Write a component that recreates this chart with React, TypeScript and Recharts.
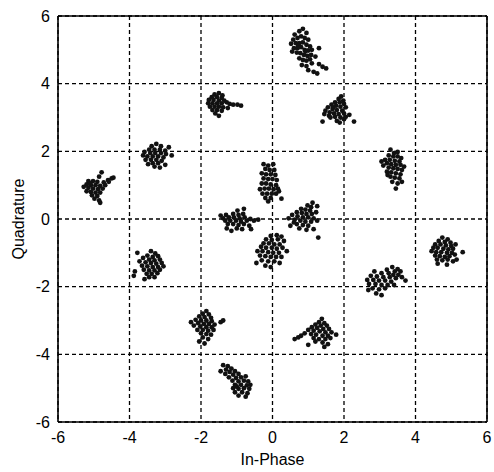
import { ScatterChart, Scatter, XAxis, YAxis, CartesianGrid, ReferenceLine } from 'recharts';

const axisTicks = [-6, -4, -2, 0, 2, 4, 6];

// one array per constellation cluster, [in-phase, quadrature]
const c1 = [
  [0.62, 5.45], [0.75, 5.55], [0.85, 5.62], [0.95, 5.5], [0.58, 5.3], [0.52, 5.18], [0.7, 5.35], [0.8, 5.4],
  [0.9, 5.35], [1.0, 5.3], [0.65, 5.2], [0.75, 5.2], [0.85, 5.22], [0.95, 5.15], [1.05, 5.1], [0.6, 5.05],
  [0.7, 5.05], [0.8, 5.08], [0.9, 5.0], [1.0, 4.98], [1.1, 5.0], [0.68, 4.92], [0.78, 4.9], [0.88, 4.85],
  [0.98, 4.82], [1.08, 4.85], [0.75, 4.75], [0.85, 4.7], [0.95, 4.68], [1.05, 4.72], [1.2, 4.8], [0.82, 4.55],
  [0.95, 4.52], [1.1, 4.6], [1.3, 4.58], [1.4, 4.5], [1.0, 4.4], [1.15, 4.35], [1.25, 4.3], [1.5, 4.45],
  [0.55, 4.95], [1.3, 5.05], [0.92, 4.95], [0.72, 5.12],
];
const c2 = [
  [1.92, 3.62], [1.85, 3.55], [1.98, 3.5], [1.75, 3.45], [1.88, 3.45], [2.0, 3.4], [1.65, 3.38], [1.78, 3.35],
  [1.9, 3.32], [2.05, 3.3], [1.55, 3.3], [1.68, 3.25], [1.8, 3.22], [1.95, 3.2], [1.48, 3.2], [1.6, 3.15],
  [1.72, 3.12], [1.85, 3.1], [2.0, 3.12], [1.45, 3.1], [1.58, 3.05], [1.75, 3.02], [1.9, 3.0], [2.05, 3.02],
  [2.15, 3.08], [1.4, 2.88], [1.8, 2.9], [1.88, 2.85], [2.0, 2.95], [2.28, 2.88], [1.62, 3.0], [1.7, 3.3],
];
const c3 = [
  [3.3, 2.05], [3.4, 1.95], [3.5, 1.98], [3.25, 1.88], [3.38, 1.85], [3.5, 1.85], [3.6, 1.8], [3.15, 1.75],
  [3.28, 1.75], [3.42, 1.72], [3.55, 1.7], [3.2, 1.65], [3.32, 1.62], [3.45, 1.6], [3.58, 1.6], [3.68, 1.55],
  [3.1, 1.58], [3.25, 1.52], [3.38, 1.5], [3.5, 1.48], [3.62, 1.45], [3.2, 1.4], [3.32, 1.38], [3.45, 1.35],
  [3.58, 1.32], [3.3, 1.25], [3.42, 1.22], [3.55, 1.2], [3.35, 1.1], [3.5, 1.05], [3.62, 1.1], [3.45, 0.9],
  [3.22, 1.3], [3.05, 1.7],
];
const c4 = [
  [4.75, -0.55], [4.9, -0.6], [4.65, -0.65], [4.82, -0.68], [4.98, -0.7], [4.55, -0.75], [4.7, -0.75],
  [4.85, -0.78], [5.0, -0.8], [5.12, -0.75], [4.5, -0.85], [4.62, -0.85], [4.78, -0.88], [4.92, -0.9],
  [5.05, -0.88], [4.45, -0.95], [4.58, -0.98], [4.72, -0.98], [4.88, -1.0], [5.02, -1.0], [5.32, -0.98],
  [4.55, -1.08], [4.68, -1.1], [4.82, -1.12], [4.95, -1.1], [5.1, -1.05], [4.6, -1.2], [4.75, -1.22],
  [4.9, -1.2], [5.05, -1.25], [4.62, -1.32], [4.88, -1.35], [5.15, -1.2],
];
const c5 = [
  [3.35, -1.42], [3.5, -1.48], [3.2, -1.5], [3.42, -1.55], [3.58, -1.55], [2.85, -1.55], [3.05, -1.6],
  [3.25, -1.6], [3.38, -1.65], [3.52, -1.65], [2.75, -1.68], [2.92, -1.7], [3.1, -1.72], [3.28, -1.72],
  [3.45, -1.75], [3.62, -1.72], [2.65, -1.8], [2.82, -1.8], [2.98, -1.82], [3.15, -1.82], [3.32, -1.85],
  [3.72, -1.82], [2.7, -1.92], [2.88, -1.92], [3.05, -1.95], [3.22, -1.95], [3.4, -1.95], [2.8, -2.05],
  [2.98, -2.08], [3.15, -2.05], [2.9, -2.2], [3.05, -2.25], [2.68, -2.1],
];
const c6 = [
  [1.38, -2.95], [1.3, -3.05], [1.45, -3.08], [1.2, -3.12], [1.35, -3.15], [1.52, -3.15], [1.1, -3.2],
  [1.25, -3.22], [1.42, -3.25], [1.58, -3.25], [1.0, -3.28], [1.15, -3.3], [1.32, -3.32], [1.48, -3.35],
  [1.65, -3.35], [0.9, -3.38], [1.08, -3.4], [1.22, -3.42], [1.4, -3.45], [1.55, -3.45], [1.78, -3.42],
  [0.8, -3.45], [0.72, -3.5], [0.62, -3.55], [1.15, -3.52], [1.3, -3.55], [1.48, -3.55], [1.62, -3.52],
  [1.2, -3.62], [1.4, -3.65], [1.55, -3.7], [1.0, -3.72], [1.45, -3.78],
];
const c7 = [
  [-1.38, -4.32], [-1.25, -4.35], [-1.3, -4.45], [-1.15, -4.42], [-1.45, -4.5], [-1.2, -4.52], [-1.05, -4.5],
  [-1.32, -4.58], [-1.1, -4.6], [-0.95, -4.58], [-1.22, -4.68], [-1.02, -4.7], [-0.88, -4.68], [-0.75, -4.65],
  [-1.12, -4.78], [-0.95, -4.8], [-0.8, -4.78], [-0.68, -4.8], [-1.05, -4.9], [-0.88, -4.9], [-0.72, -4.92],
  [-1.1, -5.0], [-0.95, -5.02], [-0.8, -5.0], [-0.65, -5.02], [-1.05, -5.12], [-0.85, -5.12], [-0.7, -5.15],
  [-0.95, -5.22], [-0.75, -5.25], [-1.0, -4.95], [-0.62, -4.9],
];
const c8 = [
  [-1.85, -2.72], [-1.95, -2.8], [-1.78, -2.82], [-2.05, -2.88], [-1.9, -2.9], [-1.72, -2.92], [-2.15, -2.98],
  [-2.0, -3.0], [-1.85, -3.0], [-1.7, -3.02], [-2.28, -3.05], [-2.08, -3.08], [-1.92, -3.1], [-1.78, -3.1],
  [-1.62, -3.12], [-2.2, -3.15], [-2.02, -3.18], [-1.85, -3.2], [-1.7, -3.2], [-1.45, -3.05], [-1.38, -3.0],
  [-2.1, -3.28], [-1.95, -3.28], [-1.8, -3.3], [-1.65, -3.28], [-2.0, -3.38], [-1.85, -3.4], [-1.72, -3.42],
  [-1.95, -3.5], [-1.8, -3.55], [-2.05, -3.62], [-1.9, -3.68],
];
const c9 = [
  [-3.78, -1.0], [-3.4, -0.95], [-3.28, -1.02], [-3.5, -1.08], [-3.35, -1.12], [-3.2, -1.1], [-3.62, -1.15],
  [-3.45, -1.2], [-3.3, -1.22], [-3.15, -1.2], [-3.72, -1.25], [-3.55, -1.28], [-3.4, -1.3], [-3.25, -1.32],
  [-3.1, -1.3], [-3.65, -1.38], [-3.5, -1.4], [-3.35, -1.42], [-3.2, -1.42], [-3.05, -1.4], [-3.6, -1.5],
  [-3.45, -1.52], [-3.3, -1.52], [-3.15, -1.5], [-3.85, -1.55], [-3.52, -1.62], [-3.38, -1.62], [-3.22, -1.6],
  [-3.45, -1.72], [-3.3, -1.72], [-3.88, -1.68], [-3.58, -1.78],
];
const c10 = [
  [-4.78, 1.38], [-4.85, 1.25], [-4.5, 1.2], [-4.6, 1.15], [-5.15, 1.12], [-5.02, 1.12], [-4.9, 1.1],
  [-4.72, 1.08], [-5.2, 1.02], [-5.08, 1.0], [-4.95, 1.0], [-4.82, 0.98], [-4.68, 1.0], [-5.28, 0.95],
  [-5.15, 0.92], [-5.02, 0.9], [-4.88, 0.88], [-4.75, 0.9], [-5.2, 0.82], [-5.08, 0.8], [-4.95, 0.78],
  [-4.82, 0.78], [-5.05, 0.7], [-4.9, 0.68], [-4.98, 0.6], [-4.85, 0.55], [-4.82, 0.48], [-4.58, 1.1],
  [-4.45, 1.22], [-5.1, 1.05],
];
const c11 = [
  [-3.25, 2.22], [-3.38, 2.15], [-3.12, 2.15], [-2.9, 2.12], [-3.45, 2.05], [-3.3, 2.05], [-3.15, 2.05],
  [-3.0, 2.02], [-3.58, 1.98], [-3.42, 1.95], [-3.28, 1.95], [-3.12, 1.95], [-2.98, 1.92], [-3.62, 1.88],
  [-3.5, 1.85], [-3.35, 1.85], [-3.2, 1.85], [-3.05, 1.82], [-2.82, 1.88], [-3.55, 1.75], [-3.4, 1.75],
  [-3.25, 1.75], [-3.1, 1.72], [-3.35, 1.65], [-3.2, 1.65], [-3.3, 1.55], [-3.15, 1.52], [-3.0, 1.6],
  [-3.48, 1.62],
];
const c12 = [
  [-1.5, 3.72], [-1.62, 3.68], [-1.4, 3.65], [-1.7, 3.6], [-1.55, 3.6], [-1.42, 3.58], [-1.78, 3.52],
  [-1.65, 3.52], [-1.5, 3.5], [-1.35, 3.5], [-1.8, 3.42], [-1.68, 3.42], [-1.55, 3.42], [-1.42, 3.42],
  [-1.28, 3.45], [-1.2, 3.4], [-1.1, 3.38], [-0.98, 3.38], [-0.88, 3.35], [-1.75, 3.32], [-1.62, 3.32],
  [-1.5, 3.32], [-1.38, 3.3], [-1.68, 3.22], [-1.55, 3.22], [-1.42, 3.2], [-1.6, 3.12], [-1.5, 3.05],
  [-1.25, 3.28],
];
const c13 = [
  [-1.45, 0.1], [-1.3, 0.12], [-0.8, 0.3], [-0.98, 0.25], [-1.1, 0.15], [-0.95, 0.12], [-0.82, 0.15],
  [-1.38, 0.02], [-1.22, 0.05], [-1.08, 0.05], [-0.92, 0.02], [-0.78, 0.05], [-0.62, 0.0], [-1.32, -0.05],
  [-1.18, -0.05], [-1.02, -0.05], [-0.88, -0.08], [-0.72, -0.05], [-0.52, -0.05], [-0.4, -0.02],
  [-1.25, -0.15], [-1.1, -0.15], [-0.95, -0.18], [-0.8, -0.15], [-0.65, -0.2], [-1.28, -0.28], [-1.0, -0.28],
  [-0.85, -0.3], [-1.15, -0.35], [-0.6, -0.3],
];
const c14 = [
  [-0.25, 1.62], [-0.12, 1.58], [0.02, 1.62], [-0.2, 1.48], [-0.08, 1.45], [0.05, 1.45], [-0.3, 1.35],
  [-0.18, 1.32], [-0.05, 1.32], [0.08, 1.3], [-0.25, 1.2], [-0.12, 1.18], [0.0, 1.18], [0.12, 1.15],
  [-0.3, 1.05], [-0.18, 1.05], [-0.05, 1.02], [0.1, 1.0], [-0.22, 0.9], [-0.1, 0.9], [0.03, 0.88], [0.15, 0.9],
  [-0.35, 0.88], [-0.28, 0.75], [-0.15, 0.75], [-0.02, 0.75], [0.1, 0.75], [-0.2, 0.62], [-0.05, 0.62],
  [0.25, 0.6], [-0.12, 0.52], [0.18, 0.82],
];
const c15 = [
  [1.12, 0.48], [0.98, 0.4], [1.08, 0.35], [1.25, 0.38], [0.8, 0.3], [0.92, 0.28], [1.05, 0.25], [0.68, 0.2],
  [0.82, 0.18], [0.95, 0.15], [1.1, 0.15], [1.22, 0.2], [0.55, 0.12], [0.7, 0.08], [0.85, 0.05], [1.0, 0.05],
  [1.15, 0.02], [0.45, 0.02], [0.62, -0.02], [0.78, -0.05], [0.92, -0.08], [1.08, -0.08], [1.25, -0.05],
  [0.68, -0.15], [0.85, -0.18], [1.0, -0.2], [0.5, -0.2], [0.75, -0.28], [0.95, -0.32], [1.15, -0.3],
  [1.28, -0.55], [0.6, -0.1],
];
const c16 = [
  [-0.05, -0.5], [0.12, -0.48], [0.25, -0.52], [-0.18, -0.6], [-0.02, -0.62], [0.15, -0.6], [0.32, -0.65],
  [-0.25, -0.72], [-0.1, -0.72], [0.05, -0.75], [0.2, -0.75], [-0.32, -0.82], [-0.18, -0.85], [-0.02, -0.85],
  [0.12, -0.88], [0.28, -0.85], [-0.42, -0.95], [-0.28, -0.95], [-0.12, -0.98], [0.02, -1.0], [0.18, -1.0],
  [0.4, -0.95], [-0.35, -1.08], [-0.2, -1.1], [-0.05, -1.12], [0.1, -1.12], [0.25, -1.12], [-0.3, -1.22],
  [-0.12, -1.25], [0.05, -1.25], [-0.2, -1.38], [-0.05, -1.42], [-0.45, -1.3], [0.2, -1.3],
];

const clusters = [c1, c2, c3, c4, c5, c6, c7, c8, c9, c10, c11, c12, c13, c14, c15, c16];
const points = clusters.flat().map(([x, y]) => ({ x, y }));

const font = '"Liberation Sans", Arial, sans-serif';
const tickStyle = { fill: '#000', fontSize: 16, fontFamily: font };

const Dot = (props: any) => <circle cx={props.cx} cy={props.cy} r={2.4} fill="#111" />;

export default function App() {
  return (
    <div style={{ position: 'absolute', left: 0, top: 0, background: '#fff' }}>
      <ScatterChart width={494} height={472} margin={{ top: 16, right: 7, bottom: 0, left: 0 }}>
        <CartesianGrid stroke="#000" strokeWidth={1.3} strokeDasharray="4 3" />
        <XAxis
          type="number"
          dataKey="x"
          domain={[-6, 6]}
          ticks={axisTicks}
          height={50}
          tickLine={false}
          tickMargin={4}
          tick={tickStyle}
          axisLine={{ stroke: '#000', strokeWidth: 1.6 }}
          label={{ value: 'In-Phase', position: 'insideBottom', offset: 7, fill: '#000', fontSize: 16, fontFamily: font }}
        />
        <YAxis
          type="number"
          dataKey="y"
          domain={[-6, 6]}
          ticks={axisTicks}
          width={58}
          tickLine={false}
          tick={tickStyle}
          axisLine={{ stroke: '#000', strokeWidth: 1.6 }}
          label={{
            value: 'Quadrature',
            angle: -90,
            position: 'insideLeft',
            offset: 18,
            style: { textAnchor: 'middle' },
            fill: '#000',
            fontSize: 16,
            fontFamily: font,
          }}
        />
        <ReferenceLine y={6} stroke="#000" strokeWidth={1.6} />
        <ReferenceLine x={6} stroke="#000" strokeWidth={1.6} />
        <Scatter data={points} shape={Dot} isAnimationActive={false} />
      </ScatterChart>
    </div>
  );
}
